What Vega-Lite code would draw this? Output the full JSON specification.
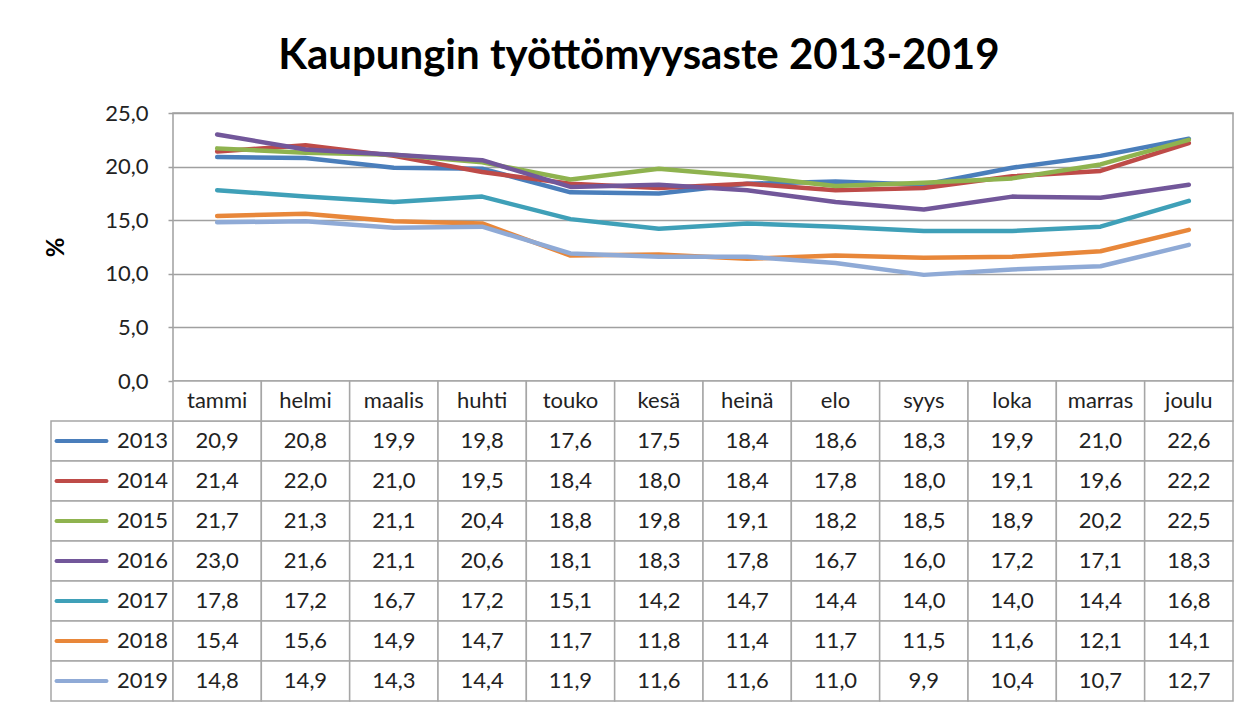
{
  "$schema": "https://vega.github.io/schema/vega-lite/v6.json",
  "background": "white",
  "padding": {"left": 43, "top": 35, "right": 20, "bottom": 6},
  "title": {"text": "Kaupungin työttömyysaste 2013-2019", "font": "Lato", "fontSize": 42, "fontWeight": "bold", "color": "#000000", "anchor": "middle", "offset": 23},
  "datasets": {
    "rates": [
      {"kuukausi": "tammi", "vuosi": "2013", "arvo": 20.9}, {"kuukausi": "helmi", "vuosi": "2013", "arvo": 20.8}, {"kuukausi": "maalis", "vuosi": "2013", "arvo": 19.9}, {"kuukausi": "huhti", "vuosi": "2013", "arvo": 19.8}, {"kuukausi": "touko", "vuosi": "2013", "arvo": 17.6}, {"kuukausi": "kesä", "vuosi": "2013", "arvo": 17.5}, {"kuukausi": "heinä", "vuosi": "2013", "arvo": 18.4}, {"kuukausi": "elo", "vuosi": "2013", "arvo": 18.6}, {"kuukausi": "syys", "vuosi": "2013", "arvo": 18.3}, {"kuukausi": "loka", "vuosi": "2013", "arvo": 19.9}, {"kuukausi": "marras", "vuosi": "2013", "arvo": 21.0}, {"kuukausi": "joulu", "vuosi": "2013", "arvo": 22.6},
      {"kuukausi": "tammi", "vuosi": "2014", "arvo": 21.4}, {"kuukausi": "helmi", "vuosi": "2014", "arvo": 22.0}, {"kuukausi": "maalis", "vuosi": "2014", "arvo": 21.0}, {"kuukausi": "huhti", "vuosi": "2014", "arvo": 19.5}, {"kuukausi": "touko", "vuosi": "2014", "arvo": 18.4}, {"kuukausi": "kesä", "vuosi": "2014", "arvo": 18.0}, {"kuukausi": "heinä", "vuosi": "2014", "arvo": 18.4}, {"kuukausi": "elo", "vuosi": "2014", "arvo": 17.8}, {"kuukausi": "syys", "vuosi": "2014", "arvo": 18.0}, {"kuukausi": "loka", "vuosi": "2014", "arvo": 19.1}, {"kuukausi": "marras", "vuosi": "2014", "arvo": 19.6}, {"kuukausi": "joulu", "vuosi": "2014", "arvo": 22.2},
      {"kuukausi": "tammi", "vuosi": "2015", "arvo": 21.7}, {"kuukausi": "helmi", "vuosi": "2015", "arvo": 21.3}, {"kuukausi": "maalis", "vuosi": "2015", "arvo": 21.1}, {"kuukausi": "huhti", "vuosi": "2015", "arvo": 20.4}, {"kuukausi": "touko", "vuosi": "2015", "arvo": 18.8}, {"kuukausi": "kesä", "vuosi": "2015", "arvo": 19.8}, {"kuukausi": "heinä", "vuosi": "2015", "arvo": 19.1}, {"kuukausi": "elo", "vuosi": "2015", "arvo": 18.2}, {"kuukausi": "syys", "vuosi": "2015", "arvo": 18.5}, {"kuukausi": "loka", "vuosi": "2015", "arvo": 18.9}, {"kuukausi": "marras", "vuosi": "2015", "arvo": 20.2}, {"kuukausi": "joulu", "vuosi": "2015", "arvo": 22.5},
      {"kuukausi": "tammi", "vuosi": "2016", "arvo": 23.0}, {"kuukausi": "helmi", "vuosi": "2016", "arvo": 21.6}, {"kuukausi": "maalis", "vuosi": "2016", "arvo": 21.1}, {"kuukausi": "huhti", "vuosi": "2016", "arvo": 20.6}, {"kuukausi": "touko", "vuosi": "2016", "arvo": 18.1}, {"kuukausi": "kesä", "vuosi": "2016", "arvo": 18.3}, {"kuukausi": "heinä", "vuosi": "2016", "arvo": 17.8}, {"kuukausi": "elo", "vuosi": "2016", "arvo": 16.7}, {"kuukausi": "syys", "vuosi": "2016", "arvo": 16.0}, {"kuukausi": "loka", "vuosi": "2016", "arvo": 17.2}, {"kuukausi": "marras", "vuosi": "2016", "arvo": 17.1}, {"kuukausi": "joulu", "vuosi": "2016", "arvo": 18.3},
      {"kuukausi": "tammi", "vuosi": "2017", "arvo": 17.8}, {"kuukausi": "helmi", "vuosi": "2017", "arvo": 17.2}, {"kuukausi": "maalis", "vuosi": "2017", "arvo": 16.7}, {"kuukausi": "huhti", "vuosi": "2017", "arvo": 17.2}, {"kuukausi": "touko", "vuosi": "2017", "arvo": 15.1}, {"kuukausi": "kesä", "vuosi": "2017", "arvo": 14.2}, {"kuukausi": "heinä", "vuosi": "2017", "arvo": 14.7}, {"kuukausi": "elo", "vuosi": "2017", "arvo": 14.4}, {"kuukausi": "syys", "vuosi": "2017", "arvo": 14.0}, {"kuukausi": "loka", "vuosi": "2017", "arvo": 14.0}, {"kuukausi": "marras", "vuosi": "2017", "arvo": 14.4}, {"kuukausi": "joulu", "vuosi": "2017", "arvo": 16.8},
      {"kuukausi": "tammi", "vuosi": "2018", "arvo": 15.4}, {"kuukausi": "helmi", "vuosi": "2018", "arvo": 15.6}, {"kuukausi": "maalis", "vuosi": "2018", "arvo": 14.9}, {"kuukausi": "huhti", "vuosi": "2018", "arvo": 14.7}, {"kuukausi": "touko", "vuosi": "2018", "arvo": 11.7}, {"kuukausi": "kesä", "vuosi": "2018", "arvo": 11.8}, {"kuukausi": "heinä", "vuosi": "2018", "arvo": 11.4}, {"kuukausi": "elo", "vuosi": "2018", "arvo": 11.7}, {"kuukausi": "syys", "vuosi": "2018", "arvo": 11.5}, {"kuukausi": "loka", "vuosi": "2018", "arvo": 11.6}, {"kuukausi": "marras", "vuosi": "2018", "arvo": 12.1}, {"kuukausi": "joulu", "vuosi": "2018", "arvo": 14.1},
      {"kuukausi": "tammi", "vuosi": "2019", "arvo": 14.8}, {"kuukausi": "helmi", "vuosi": "2019", "arvo": 14.9}, {"kuukausi": "maalis", "vuosi": "2019", "arvo": 14.3}, {"kuukausi": "huhti", "vuosi": "2019", "arvo": 14.4}, {"kuukausi": "touko", "vuosi": "2019", "arvo": 11.9}, {"kuukausi": "kesä", "vuosi": "2019", "arvo": 11.6}, {"kuukausi": "heinä", "vuosi": "2019", "arvo": 11.6}, {"kuukausi": "elo", "vuosi": "2019", "arvo": 11.0}, {"kuukausi": "syys", "vuosi": "2019", "arvo": 9.9}, {"kuukausi": "loka", "vuosi": "2019", "arvo": 10.4}, {"kuukausi": "marras", "vuosi": "2019", "arvo": 10.7}, {"kuukausi": "joulu", "vuosi": "2019", "arvo": 12.7}
    ]
  },
  "data": {"name": "rates"},
  "columns": 2,
  "spacing": 0,
  "bounds": "flush",
  "align": "each",
  "concat": [
    {
      "width": 122,
      "height": 268,
      "mark": {"type": "text", "text": ""},
      "encoding": {}
    },
    {
      "width": 1060,
      "height": 268,
      "view": {"stroke": "#a0a0a0", "strokeWidth": 1.5},
      "mark": {"type": "line", "strokeWidth": 4.5, "strokeJoin": "round", "strokeCap": "round"},
      "encoding": {
        "x": {"field": "kuukausi", "type": "ordinal", "sort": ["tammi", "helmi", "maalis", "huhti", "touko", "kesä", "heinä", "elo", "syys", "loka", "marras", "joulu"], "scale": {"type": "point", "padding": 0.5}, "axis": null},
        "y": {
          "field": "arvo", "type": "quantitative",
          "scale": {"domain": [0, 25], "nice": false},
          "axis": {"title": "%", "values": [0, 5, 10, 15, 20, 25], "format": ".1f", "grid": true, "gridColor": "#a0a0a0", "gridWidth": 1.5, "domain": false, "ticks": true, "tickSize": 5, "tickColor": "#a0a0a0", "tickWidth": 1.5, "labelFont": "Lato", "labelFontSize": 22, "labelColor": "#222222", "labelPadding": 20, "titleFont": "Lato", "titleFontSize": 24, "titleFontWeight": "bold", "titleColor": "#000000", "titlePadding": 36}
        },
        "color": {"field": "vuosi", "type": "nominal", "scale": {"domain": ["2013", "2014", "2015", "2016", "2017", "2018", "2019"], "range": ["#4A7EBB", "#BE4B48", "#8FB34F", "#72579A", "#3FA0B8", "#E8873A", "#8FAAD6"]}, "legend": null}
      }
    },
    {
      "width": 122,
      "height": 320,
      "transform": [{"aggregate": [{"op": "count", "as": "n"}], "groupby": ["vuosi"]}],
      "encoding": {
        "y": {"field": "vuosi", "type": "ordinal", "scale": {"domain": ["otsikko", "2013", "2014", "2015", "2016", "2017", "2018", "2019"], "paddingInner": 0, "paddingOuter": 0}, "axis": null}
      },
      "layer": [
        {"mark": {"type": "rect", "fill": "white", "stroke": "#a6a6a6", "strokeWidth": 1.5}},
        {
          "mark": {"type": "tick", "orient": "horizontal", "size": 54, "thickness": 4, "cornerRadius": 2, "opacity": 1},
          "encoding": {
            "x": {"datum": "viiva", "type": "ordinal", "scale": {"domain": ["viiva", "vuosi"], "paddingInner": 0, "paddingOuter": 0}, "axis": null},
            "color": {"field": "vuosi", "type": "nominal", "scale": {"domain": ["2013", "2014", "2015", "2016", "2017", "2018", "2019"], "range": ["#4A7EBB", "#BE4B48", "#8FB34F", "#72579A", "#3FA0B8", "#E8873A", "#8FAAD6"]}, "legend": null}
          }
        },
        {
          "mark": {"type": "text", "font": "Lato", "fontSize": 22, "color": "#222222"},
          "encoding": {
            "x": {"datum": "vuosi", "type": "ordinal"},
            "text": {"field": "vuosi", "type": "nominal"}
          }
        }
      ]
    },
    {
      "width": 1060,
      "height": 320,
      "encoding": {
        "x": {"field": "kuukausi", "type": "ordinal", "sort": ["tammi", "helmi", "maalis", "huhti", "touko", "kesä", "heinä", "elo", "syys", "loka", "marras", "joulu"], "scale": {"paddingInner": 0, "paddingOuter": 0}, "axis": null}
      },
      "layer": [
        {
          "mark": {"type": "rect", "fill": "white", "stroke": "#a6a6a6", "strokeWidth": 1.5},
          "encoding": {"y": {"field": "vuosi", "type": "ordinal", "scale": {"domain": ["otsikko", "2013", "2014", "2015", "2016", "2017", "2018", "2019"], "paddingInner": 0, "paddingOuter": 0}, "axis": null}}
        },
        {
          "transform": [{"aggregate": [{"op": "count", "as": "n"}], "groupby": ["kuukausi"]}],
          "mark": {"type": "rect", "fill": "white", "stroke": "#a6a6a6", "strokeWidth": 1.5},
          "encoding": {"y": {"datum": "otsikko", "type": "ordinal"}}
        },
        {
          "mark": {"type": "text", "font": "Lato", "fontSize": 22, "color": "#222222"},
          "encoding": {
            "y": {"field": "vuosi", "type": "ordinal"},
            "text": {"field": "arvo", "type": "quantitative", "format": ".1f"}
          }
        },
        {
          "transform": [{"aggregate": [{"op": "count", "as": "n"}], "groupby": ["kuukausi"]}],
          "mark": {"type": "text", "font": "Lato", "fontSize": 22, "color": "#222222"},
          "encoding": {
            "y": {"datum": "otsikko", "type": "ordinal"},
            "text": {"field": "kuukausi", "type": "nominal"}
          }
        }
      ]
    }
  ],
  "config": {
    "view": {"stroke": null},
    "font": "Lato",
    "locale": {"number": {"decimal": ",", "thousands": " ", "grouping": [3], "currency": ["", " €"]}}
  }
}
